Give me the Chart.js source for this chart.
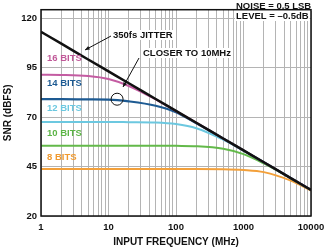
<!DOCTYPE html>
<html>
<head>
<meta charset="utf-8">
<script src="https://cdn.jsdelivr.net/npm/chart.js@4/dist/chart.umd.min.js"></script>
<style>
  html, body { margin: 0; padding: 0; background: #fff; }
  #wrap { width: 326px; height: 248px; }
</style>
</head>
<body>
<div id="wrap"><canvas id="snrChart"></canvas></div>
<script>
// input frequency (MHz)
const freqs = [1, 2, 5, 10, 20, 50, 100, 200, 500, 1000, 2000, 5000, 10000];
// SNR (dBFS)
const jitter350 = [113.2, 107.2, 99.2, 93.2, 87.2, 79.2, 73.2, 67.2, 59.2, 53.2, 47.2, 39.2, 33.2];
const bits16 = [91.5, 91.4, 90.8, 89.3, 85.8, 79.0, 73.1, 67.2, 59.2, 53.2, 47.2, 39.2, 33.2];
const bits14 = [79.1, 79.1, 79.0, 78.9, 78.0, 75.8, 72.5, 66.9, 59.2, 53.2, 47.2, 39.2, 33.2];
const bits12 = [67.6, 67.6, 67.6, 67.6, 67.5, 67.3, 66.5, 64.4, 58.6, 53.0, 47.2, 39.2, 33.2];
const bits10 = [55.6, 55.6, 55.6, 55.6, 55.6, 55.6, 55.5, 55.3, 54.0, 51.3, 46.6, 39.1, 33.2];
const bits8 = [43.8, 43.8, 43.8, 43.8, 43.8, 43.8, 43.8, 43.8, 43.7, 43.3, 42.2, 37.9, 32.8];
const yTicks = [20, 45, 70, 95, 120];
const xLabels = [1, 10, 100, 1000, 10000];

const FONT = "'Liberation Sans', Arial, sans-serif";

function pts(vals) {
  return freqs.map((f, i) => ({ x: f, y: vals[i] }));
}

function line(label, vals, color, width) {
  return {
    label: label,
    data: pts(vals),
    borderColor: color,
    borderWidth: width,
    pointRadius: 0,
    fill: false,
    cubicInterpolationMode: "monotone",
  };
}

const data = {
  datasets: [
    line("350fs JITTER", jitter350, "#111111", 2.5),
    line("16 BITS", bits16, "#c45ca2", 2),
    line("14 BITS", bits14, "#1d5a92", 2.2),
    line("12 BITS", bits12, "#6cc8e0", 2),
    line("10 BITS", bits10, "#63b94a", 2),
    line("8 BITS", bits8, "#f3a03a", 2),
  ],
};

// text, arrows, circle and frame
const notes = {
  id: "notes",
  afterDatasetsDraw(chart) {
    const c = chart.ctx;
    const a = chart.chartArea;
    const xs = chart.scales.x;
    const ys = chart.scales.y;
    c.save();

    c.font = "bold 9.5px " + FONT;
    c.textBaseline = "middle";
    c.textAlign = "left";

    function boxed(txt, x, y) {
      const w = c.measureText(txt).width;
      c.fillStyle = "#fff";
      c.fillRect(x - 1, y - 5, w + 2, 10);
      c.fillStyle = "#111";
      c.fillText(txt, x, y);
    }

    const tags = [
      ["16 BITS", "#c05898", 58],
      ["14 BITS", "#1d5a92", 83],
      ["12 BITS", "#6cc8e0", 108],
      ["10 BITS", "#5cb446", 133],
      ["8 BITS", "#f09a30", 157],
    ];
    tags.forEach(t => {
      c.fillStyle = t[1];
      c.fillText(t[0], 47, t[2]);
    });

    boxed("350fs JITTER", 113, 35);
    boxed("CLOSER TO 10MHz", 143, 53);
    boxed("NOISE = 0.5 LSB", 236, 6);
    boxed("LEVEL = \u20130.5dB", 236, 16);

    c.strokeStyle = "#111";
    c.fillStyle = "#111";
    c.lineWidth = 1.5;
    c.strokeRect(a.left, a.top, a.right - a.left, a.bottom - a.top);

    // circle on the 14 bit line
    const cx = xs.getPixelForValue(13.4);
    const cy = ys.getPixelForValue(79.1);
    c.lineWidth = 1;
    c.beginPath();
    c.arc(cx, cy, 6, 0, Math.PI * 2);
    c.stroke();

    function arrow(x1, y1, x2, y2) {
      c.beginPath();
      c.moveTo(x1, y1);
      c.lineTo(x2, y2);
      c.stroke();
      const ang = Math.atan2(y2 - y1, x2 - x1);
      c.beginPath();
      c.moveTo(x2, y2);
      c.lineTo(x2 - 5 * Math.cos(ang - 0.4), y2 - 5 * Math.sin(ang - 0.4));
      c.lineTo(x2 - 5 * Math.cos(ang + 0.4), y2 - 5 * Math.sin(ang + 0.4));
      c.closePath();
      c.fill();
    }
    arrow(111, 36, 85, 50);
    arrow(139, 58, 123, 87);
    c.restore();
  },
};

const options = {
  responsive: true,
  maintainAspectRatio: false,
  animation: false,
  layout: { padding: { top: 1, right: 15, left: 0, bottom: 0 } },
  plugins: {
    legend: { display: false },
    tooltip: { enabled: false },
  },
  scales: {
    x: {
      type: "logarithmic",
      min: 1,
      max: 10000,
      afterBuildTicks: (s) => {
        const t = [];
        for (let d = 1; d < 10000; d *= 10) {
          for (let m = 1; m < 10; m++) t.push({ value: m * d });
        }
        t.push({ value: 10000 });
        s.ticks = t;
      },
      afterFit: (s) => {
        s.height = 32;
        s.paddingLeft = 0;
        s.paddingRight = 0;
      },
      grid: { color: "#b4b4b4", lineWidth: 1, drawTicks: false },
      border: { display: false },
      ticks: {
        autoSkip: false,
        maxRotation: 0,
        padding: 6,
        color: "#111",
        font: { family: FONT, size: 9.5, weight: "bold" },
        callback: (v) => (xLabels.includes(v) ? String(v) : ""),
      },
      title: {
        display: true,
        text: "INPUT FREQUENCY (MHz)",
        color: "#111",
        padding: { top: 1, bottom: 0 },
        font: { family: FONT, size: 10, weight: "bold" },
      },
    },
    y: {
      min: 20,
      max: 124.4,
      afterBuildTicks: (s) => { s.ticks = yTicks.map(v => ({ value: v })); },
      afterFit: (s) => { s.width = 41; },
      grid: { color: "#b4b4b4", lineWidth: 1, drawTicks: false },
      border: { display: false },
      ticks: {
        padding: 4,
        color: "#111",
        font: { family: FONT, size: 9.5, weight: "bold" },
      },
      title: {
        display: true,
        text: "SNR (dBFS)",
        color: "#111",
        padding: { top: 2, bottom: 0 },
        font: { family: FONT, size: 10, weight: "bold" },
      },
    },
  },
};

const ctx = document.getElementById("snrChart").getContext("2d");
const snrChart = new Chart(ctx, {
  type: "line",
  data: data,
  options: options,
  plugins: [notes],
});
</script>
</body>
</html>
